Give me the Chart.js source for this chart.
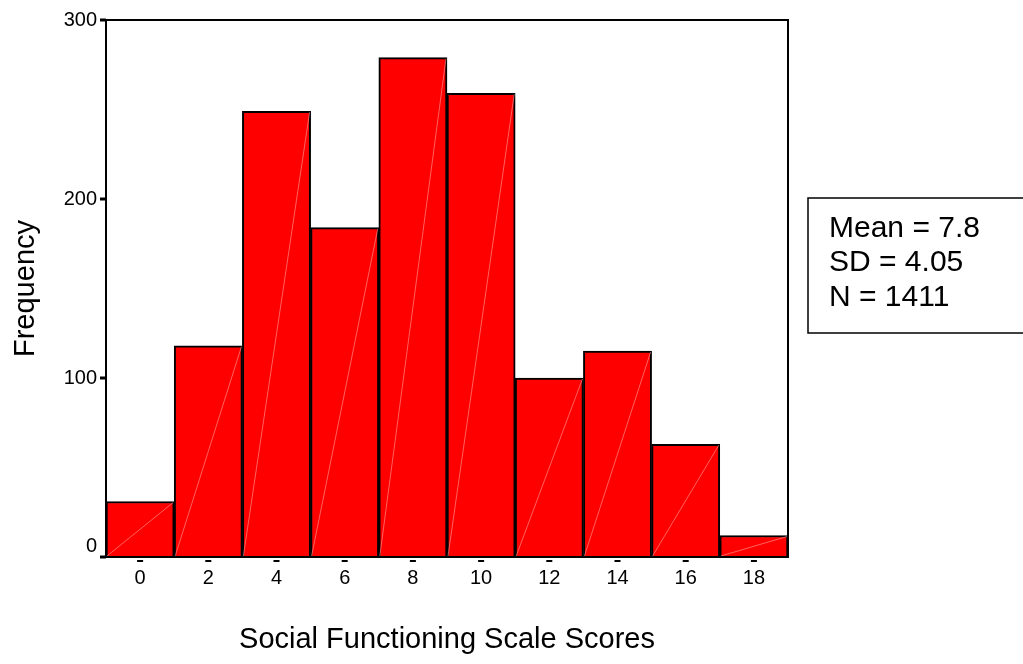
<!DOCTYPE html>
<html>
<head>
<meta charset="utf-8">
<script src="https://cdn.jsdelivr.net/npm/chart.js@4/dist/chart.umd.min.js"></script>
<style>
  html, body { margin: 0; padding: 0; background: #fff; }
  #wrap { position: relative; width: 1023px; height: 664px; }
</style>
</head>
<body>
<div id="wrap"><canvas id="c"></canvas></div>
<script>
const binLabels = ["0", "2", "4", "6", "8", "10", "12", "14", "16", "18"];
const frequencies = [31, 118, 249, 184, 279, 259, 100, 115, 63, 12];
const yTickValues = [0, 100, 200, 300];
const statsLines = ["Mean = 7.8", "SD = 4.05", "N = 1411"];
const xTitle = "Social Functioning Scale Scores";
const yTitle = "Frequency";

const FONT = "'Liberation Sans', Arial, sans-serif";

const decorPlugin = {
  id: 'decor',
  afterDatasetsDraw(chart) {
    const ctx = chart.ctx;
    const meta = chart.getDatasetMeta(0);
    ctx.save();
    // faint diagonal artefact lines inside bars
    ctx.strokeStyle = 'rgba(255,160,160,0.6)';
    ctx.lineWidth = 1;
    meta.data.forEach(el => {
      const x0 = el.x - el.width / 2 + 1, x1 = el.x + el.width / 2 - 1;
      ctx.beginPath();
      ctx.moveTo(x0, el.base - 1);
      ctx.lineTo(x1, el.y + 1);
      ctx.stroke();
    });
    const a = chart.chartArea;
    // frame
    ctx.strokeStyle = '#000';
    ctx.lineWidth = 2;
    ctx.strokeRect(a.left, a.top, a.right - a.left, a.bottom - a.top);
    // y tick marks
    ctx.fillStyle = '#000';
    const ys = chart.scales.y;
    yTickValues.forEach(v => {
      const py = ys.getPixelForValue(v);
      ctx.fillRect(a.left - 6, py - 1.5, 6, 3);
    });
    // x tick dashes
    const xs = chart.scales.x;
    binLabels.forEach((l, i) => {
      const px = xs.getPixelForValue(i);
      ctx.fillRect(px - 3, a.bottom + 3, 6, 2);
    });
    // stats box
    ctx.lineWidth = 1.5;
    ctx.strokeStyle = '#000';
    ctx.strokeRect(808, 198, 230, 135);
    ctx.font = "30px " + FONT;
    ctx.textBaseline = 'alphabetic';
    ctx.textAlign = 'left';
    statsLines.forEach((t, i) => {
      ctx.fillText(t, 829, 237 + i * 34.3);
    });
    ctx.restore();
  }
};

new Chart(document.getElementById('c'), {
  type: 'bar',
  data: {
    labels: binLabels,
    datasets: [{
      data: frequencies,
      backgroundColor: '#ff0000',
      borderColor: '#000000',
      borderWidth: 2,
      barPercentage: 1.0,
      categoryPercentage: 1.0
    }]
  },
  options: {
    responsive: true,
    maintainAspectRatio: false,
    animation: false,
    devicePixelRatio: 1,
    layout: { padding: { left: 0, top: 20, right: 235, bottom: 0 } },
    plugins: { legend: { display: false }, tooltip: { enabled: false } },
    scales: {
      x: {
        offset: true,
        grid: { display: false, drawTicks: false },
        border: { display: false },
        ticks: { color: '#000', font: { family: FONT, size: 20 }, padding: 9, maxRotation: 0 },
        title: { display: true, text: xTitle, color: '#000', font: { family: FONT, size: 29 }, padding: { top: 0, bottom: 7 } },
        afterFit(s) { s.height = 107; }
      },
      y: {
        min: 0, max: 300,
        afterBuildTicks(s) { s.ticks = yTickValues.map(v => ({ value: v })); },
        grid: { display: false, drawTicks: false },
        border: { display: false },
        ticks: {
          color: '#000', font: { family: FONT, size: 20, lineHeight: 1.1 }, padding: 9,
          callback: v => (v === 0 ? [String(v), ''] : String(v))
        },
        title: { display: true, text: yTitle, color: '#000', font: { family: FONT, size: 29 }, padding: { top: 9, bottom: 0 } },
        afterFit(s) { s.width = 106; }
      }
    }
  },
  plugins: [decorPlugin]
});
</script>
</body>
</html>
